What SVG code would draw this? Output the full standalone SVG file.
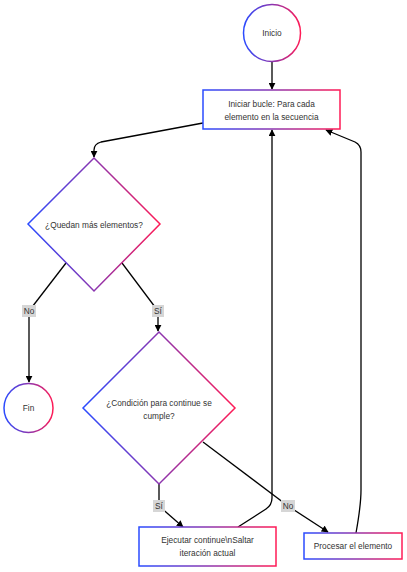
<svg xmlns="http://www.w3.org/2000/svg" width="407" height="572" viewBox="0 0 407 572">
<defs>
<linearGradient id="g" x1="0" y1="0" x2="1" y2="0">
<stop offset="0" stop-color="#2a4bff"/>
<stop offset="0.5" stop-color="#8a35b0"/>
<stop offset="1" stop-color="#ff1a55"/>
</linearGradient>
<marker id="ah" viewBox="0 0 10 10" refX="9" refY="5" markerWidth="7" markerHeight="7" markerUnits="userSpaceOnUse" orient="auto">
<path d="M0,0 L10,5 L0,10 z" fill="#000"/>
</marker>
</defs>
<style>
.n{fill:#fff;stroke:url(#g);stroke-width:1.5}
.t{font-family:"Liberation Sans",Arial,sans-serif;font-size:8.3px;fill:#333;text-anchor:middle;dominant-baseline:central}
.e{fill:none;stroke:#000;stroke-width:1.3;marker-end:url(#ah)}
.l{fill:none;stroke:#000;stroke-width:1.3}
.lb{fill:#d6d6d6}
</style>
<rect width="407" height="572" fill="#fff"/>
<g id="connectors">
<path class="e" d="M272,62 L272,89"/>
<path class="e" d="M203,123 L101,142 Q94,144 94,150 L94,157"/>
<path class="l" d="M66,263 L29,311"/>
<path class="e" d="M29,311 L29,382"/>
<path class="l" d="M122,263 L158,311"/>
<path class="e" d="M158,311 L158,331"/>
<path class="l" d="M159,484 L159,506"/>
<path class="e" d="M159,506 L183,527"/>
<path class="l" d="M203,442 L288,506"/>
<path class="e" d="M288,506 L328,532"/>
<path class="e" d="M238,527 L266,509 Q272,505 272,498 L272,130"/>
<path class="e" d="M356,533 Q361,505 361,490 L361,152 Q361,145 355,142 L326,130"/>
<rect class="lb" x="22" y="305" width="14" height="12"/>
<text class="t" x="29" y="311">No</text>
<rect class="lb" x="152" y="305" width="12" height="12"/>
<text class="t" x="158" y="311">Sí</text>
<rect class="lb" x="153" y="500" width="12" height="12"/>
<text class="t" x="159" y="506">Sí</text>
<rect class="lb" x="281" y="500" width="14" height="12"/>
<text class="t" x="288" y="506">No</text>
</g>
<g id="inicio">
<circle class="n" cx="272" cy="33" r="28.5"/>
<text class="t" x="272" y="33">Inicio</text>
</g>
<g id="iniciar">
<rect class="n" x="203" y="90" width="137" height="39"/>
<text class="t" x="271.5" y="104">Iniciar bucle: Para cada</text>
<text class="t" x="271.5" y="117">elemento en la secuencia</text>
</g>
<g id="quedan">
<path class="n" d="M94,158 L160,224 L94,291 L28,224 Z"/>
<text class="t" x="94" y="225">¿Quedan más elementos?</text>
</g>
<g id="fin">
<circle class="n" cx="28.5" cy="408" r="24.5"/>
<text class="t" x="28.5" y="408">Fin</text>
</g>
<g id="condicion">
<path class="n" d="M159,332 L235,408 L159,484 L83,408 Z"/>
<text class="t" x="159" y="403">¿Condición para continue se</text>
<text class="t" x="159" y="416">cumple?</text>
</g>
<g id="ejecutar">
<rect class="n" x="139" y="527" width="137" height="39"/>
<text class="t" x="207.5" y="540">Ejecutar continue\nSaltar</text>
<text class="t" x="207.5" y="553">iteración actual</text>
</g>
<g id="procesar">
<rect class="n" x="304" y="533" width="98" height="26"/>
<text class="t" x="353" y="546">Procesar el elemento</text>
</g>
</svg>
